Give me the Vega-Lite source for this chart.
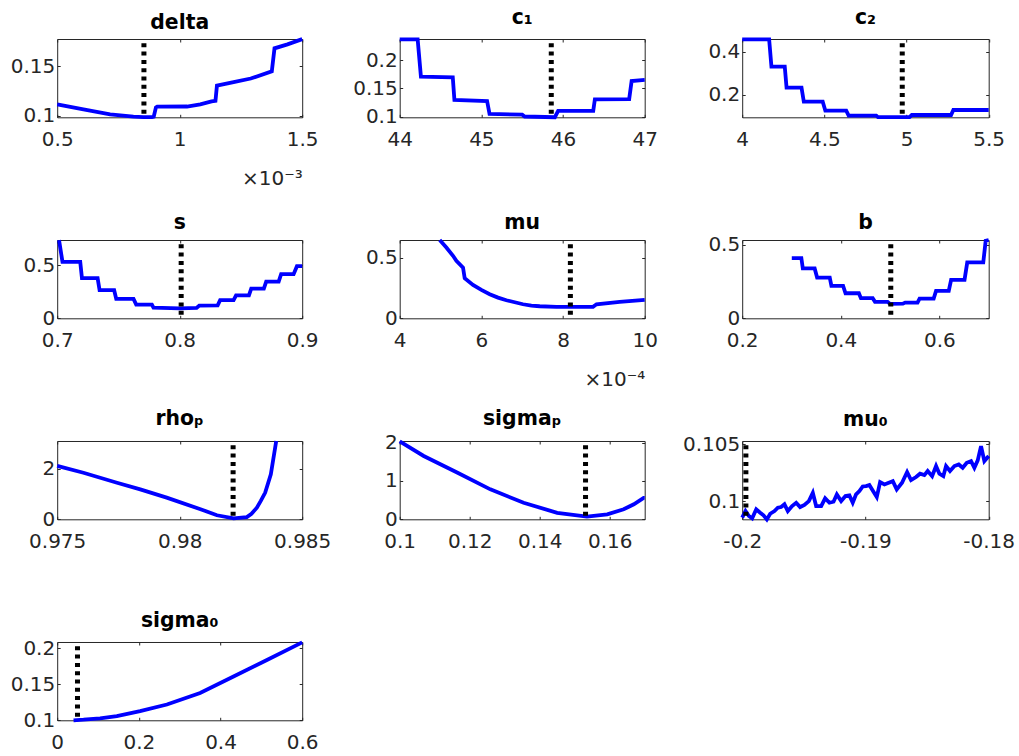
{
  "$schema": "https://vega.github.io/schema/vega-lite/v6.json",
  "padding": {"left": 9.2, "top": 7, "right": 5, "bottom": 5},
  "background": "white",
  "columns": 3,
  "bounds": "flush",
  "align": "each",
  "spacing": {"row": 122, "column": 97.5},
  "config": {
    "font": "DejaVu Sans",
    "numberFormat": "~g",
    "view": {"stroke": "#262626", "strokeWidth": 1},
    "axis": {"grid": false, "domain": false, "labelFont": "DejaVu Sans", "labelFontSize": 20, "labelFontWeight": "normal", "labelColor": "#262626", "tickColor": "#262626", "tickWidth": 1, "tickSize": -3, "labelFlush": false, "labelOverlap": false, "labelBound": false, "titleFont": "DejaVu Sans", "titleFontSize": 20, "titleFontWeight": "normal", "titleColor": "#262626"},
    "axisX": {"labelPadding": 15},
    "axisY": {"labelPadding": 5.5},
    "title": {"font": "DejaVu Sans", "fontSize": 20.4, "fontWeight": "bold", "color": "#000000", "frame": "group", "baseline": "alphabetic", "anchor": "middle"},
    "line": {"color": "#0000ff", "strokeWidth": 3.8},
    "rule": {"color": "#000000", "strokeWidth": 5, "strokeDash": [4, 4.3], "strokeDashOffset": 4}
  },
  "datasets": {
    "opt": [
      {"param": "delta", "x": 0.000854},
      {"param": "c1", "x": 45.856},
      {"param": "c2", "x": 4.974},
      {"param": "s", "x": 0.8012},
      {"param": "mu", "x": 0.000818},
      {"param": "b", "x": 0.5014},
      {"param": "rho", "x": 0.98218},
      {"param": "sigp", "x": 0.1531},
      {"param": "mu0", "x": -0.1997},
      {"param": "sig0", "x": 0.0497}
    ],
    "delta": [
      {"x": 0.0005, "y": 0.1116}, {"x": 0.000607, "y": 0.1066}, {"x": 0.000716, "y": 0.1015}, {"x": 0.000811, "y": 0.0991},
      {"x": 0.000852, "y": 0.0986}, {"x": 0.000887, "y": 0.0986}, {"x": 0.000894, "y": 0.0991}, {"x": 0.000903, "y": 0.1085},
      {"x": 0.000908, "y": 0.1092}, {"x": 0.00103, "y": 0.1094}, {"x": 0.001084, "y": 0.1116}, {"x": 0.00113, "y": 0.1146},
      {"x": 0.001146, "y": 0.1152}, {"x": 0.001152, "y": 0.1305}, {"x": 0.00122, "y": 0.134}, {"x": 0.00129, "y": 0.1377},
      {"x": 0.001376, "y": 0.145}, {"x": 0.001387, "y": 0.1682}, {"x": 0.00144, "y": 0.1722}, {"x": 0.0015, "y": 0.1775}
    ],
    "c1": [
      {"x": 44.0, "y": 0.2366}, {"x": 44.22, "y": 0.2366}, {"x": 44.26, "y": 0.1707}, {"x": 44.65, "y": 0.1696},
      {"x": 44.67, "y": 0.1295}, {"x": 45.07, "y": 0.1277}, {"x": 45.1, "y": 0.1048}, {"x": 45.5, "y": 0.1035},
      {"x": 45.53, "y": 0.1003}, {"x": 45.9, "y": 0.099}, {"x": 45.94, "y": 0.1101}, {"x": 46.37, "y": 0.1103},
      {"x": 46.39, "y": 0.1307}, {"x": 46.81, "y": 0.131}, {"x": 46.84, "y": 0.163}, {"x": 47.0, "y": 0.1648}
    ],
    "c2": [
      {"x": 4.0, "y": 0.457}, {"x": 4.164, "y": 0.457}, {"x": 4.178, "y": 0.3306}, {"x": 4.259, "y": 0.3306},
      {"x": 4.27, "y": 0.2337}, {"x": 4.361, "y": 0.2337}, {"x": 4.375, "y": 0.169}, {"x": 4.49, "y": 0.169},
      {"x": 4.506, "y": 0.1276}, {"x": 4.633, "y": 0.1276}, {"x": 4.648, "y": 0.1045}, {"x": 4.816, "y": 0.1045},
      {"x": 4.826, "y": 0.098}, {"x": 5.018, "y": 0.098}, {"x": 5.032, "y": 0.1077}, {"x": 5.271, "y": 0.1077},
      {"x": 5.285, "y": 0.1308}, {"x": 5.5, "y": 0.1308}
    ],
    "s": [
      {"x": 0.7015, "y": 0.735}, {"x": 0.7043, "y": 0.531}, {"x": 0.7188, "y": 0.531}, {"x": 0.7202, "y": 0.377},
      {"x": 0.733, "y": 0.377}, {"x": 0.7346, "y": 0.264}, {"x": 0.7465, "y": 0.264}, {"x": 0.7482, "y": 0.183},
      {"x": 0.7623, "y": 0.183}, {"x": 0.7645, "y": 0.129}, {"x": 0.7773, "y": 0.129}, {"x": 0.7786, "y": 0.1},
      {"x": 0.8, "y": 0.094}, {"x": 0.8138, "y": 0.097}, {"x": 0.816, "y": 0.12}, {"x": 0.831, "y": 0.122},
      {"x": 0.833, "y": 0.17}, {"x": 0.844, "y": 0.17}, {"x": 0.846, "y": 0.215}, {"x": 0.8565, "y": 0.215},
      {"x": 0.8584, "y": 0.279}, {"x": 0.8687, "y": 0.279}, {"x": 0.8706, "y": 0.345}, {"x": 0.8808, "y": 0.345},
      {"x": 0.8828, "y": 0.415}, {"x": 0.893, "y": 0.415}, {"x": 0.8957, "y": 0.49}, {"x": 0.9, "y": 0.49}
    ],
    "mu": [
      {"x": 0.000498, "y": 0.644}, {"x": 0.0005143, "y": 0.5825}, {"x": 0.0005306, "y": 0.514}, {"x": 0.0005388, "y": 0.4727},
      {"x": 0.0005551, "y": 0.4175}, {"x": 0.0005592, "y": 0.33}, {"x": 0.0005795, "y": 0.275}, {"x": 0.0006, "y": 0.2335},
      {"x": 0.0006204, "y": 0.198}, {"x": 0.0006408, "y": 0.17}, {"x": 0.0006613, "y": 0.1485}, {"x": 0.000702, "y": 0.1155},
      {"x": 0.0007225, "y": 0.104}, {"x": 0.000743, "y": 0.099}, {"x": 0.000784, "y": 0.0935}, {"x": 0.0008245, "y": 0.0932},
      {"x": 0.0008735, "y": 0.095}, {"x": 0.000882, "y": 0.1155}, {"x": 0.0009388, "y": 0.1345}, {"x": 0.001, "y": 0.151}
    ],
    "b": [
      {"x": 0.3006, "y": 0.411}, {"x": 0.32, "y": 0.411}, {"x": 0.323, "y": 0.34}, {"x": 0.347, "y": 0.34},
      {"x": 0.352, "y": 0.278}, {"x": 0.3776, "y": 0.278}, {"x": 0.381, "y": 0.221}, {"x": 0.4047, "y": 0.221},
      {"x": 0.4096, "y": 0.171}, {"x": 0.4367, "y": 0.171}, {"x": 0.4408, "y": 0.137}, {"x": 0.4647, "y": 0.137},
      {"x": 0.4694, "y": 0.112}, {"x": 0.495, "y": 0.112}, {"x": 0.5, "y": 0.098}, {"x": 0.526, "y": 0.1},
      {"x": 0.5306, "y": 0.107}, {"x": 0.5557, "y": 0.107}, {"x": 0.5598, "y": 0.134}, {"x": 0.5884, "y": 0.134},
      {"x": 0.5932, "y": 0.187}, {"x": 0.619, "y": 0.187}, {"x": 0.6238, "y": 0.262}, {"x": 0.651, "y": 0.262},
      {"x": 0.6565, "y": 0.381}, {"x": 0.689, "y": 0.381}, {"x": 0.6939, "y": 0.529}, {"x": 0.7, "y": 0.534}
    ],
    "rho": [
      {"x": 0.975, "y": 2.12}, {"x": 0.97607, "y": 1.85}, {"x": 0.97744, "y": 1.45}, {"x": 0.97839, "y": 1.19},
      {"x": 0.97947, "y": 0.86}, {"x": 0.98085, "y": 0.4}, {"x": 0.98152, "y": 0.16}, {"x": 0.9822, "y": 0.04},
      {"x": 0.98274, "y": 0.09}, {"x": 0.98293, "y": 0.22}, {"x": 0.98315, "y": 0.46}, {"x": 0.98331, "y": 0.73},
      {"x": 0.98349, "y": 1.06}, {"x": 0.98372, "y": 1.79}, {"x": 0.98394, "y": 3.11}
    ],
    "sigp": [
      {"x": 0.1, "y": 2.03}, {"x": 0.10686, "y": 1.65}, {"x": 0.1164, "y": 1.22}, {"x": 0.1259, "y": 0.78},
      {"x": 0.1354, "y": 0.43}, {"x": 0.145, "y": 0.17}, {"x": 0.1535, "y": 0.07}, {"x": 0.1593, "y": 0.13},
      {"x": 0.164, "y": 0.26}, {"x": 0.1669, "y": 0.39}, {"x": 0.1697, "y": 0.56}, {"x": 0.17, "y": 0.56}
    ],
    "mu0": [
      {"x": -0.2, "y": 0.09853}, {"x": -0.19973, "y": 0.09912}, {"x": -0.19946, "y": 0.09868}, {"x": -0.19919, "y": 0.09847},
      {"x": -0.19886, "y": 0.09927}, {"x": -0.19854, "y": 0.09897}, {"x": -0.19827, "y": 0.09874}, {"x": -0.198, "y": 0.09838},
      {"x": -0.19773, "y": 0.09888}, {"x": -0.19738, "y": 0.09912}, {"x": -0.19711, "y": 0.09941}, {"x": -0.19684, "y": 0.09947},
      {"x": -0.19657, "y": 0.09971}, {"x": -0.1963, "y": 0.09912}, {"x": -0.19595, "y": 0.09956}, {"x": -0.19562, "y": 0.09985},
      {"x": -0.1953, "y": 0.09947}, {"x": -0.19495, "y": 0.09965}, {"x": -0.19459, "y": 0.1}, {"x": -0.19427, "y": 0.10073},
      {"x": -0.194, "y": 0.09956}, {"x": -0.19359, "y": 0.09956}, {"x": -0.19327, "y": 0.10024}, {"x": -0.19292, "y": 0.09985},
      {"x": -0.19259, "y": 0.09994}, {"x": -0.19232, "y": 0.10059}, {"x": -0.19197, "y": 0.1}, {"x": -0.19162, "y": 0.10044},
      {"x": -0.1913, "y": 0.1005}, {"x": -0.19103, "y": 0.09985}, {"x": -0.19076, "y": 0.10059}, {"x": -0.19049, "y": 0.10088},
      {"x": -0.19022, "y": 0.10129}, {"x": -0.18995, "y": 0.10132}, {"x": -0.18968, "y": 0.10141}, {"x": -0.18941, "y": 0.10094},
      {"x": -0.18908, "y": 0.10035}, {"x": -0.18881, "y": 0.10168}, {"x": -0.18846, "y": 0.10147}, {"x": -0.18811, "y": 0.10162},
      {"x": -0.18778, "y": 0.10176}, {"x": -0.18746, "y": 0.10103}, {"x": -0.18703, "y": 0.10162}, {"x": -0.18662, "y": 0.10256},
      {"x": -0.1863, "y": 0.10185}, {"x": -0.18589, "y": 0.10212}, {"x": -0.18557, "y": 0.10241}, {"x": -0.18522, "y": 0.10229},
      {"x": -0.18495, "y": 0.10265}, {"x": -0.18459, "y": 0.1022}, {"x": -0.18427, "y": 0.10309}, {"x": -0.184, "y": 0.10241},
      {"x": -0.18368, "y": 0.1022}, {"x": -0.18346, "y": 0.10309}, {"x": -0.18314, "y": 0.10265}, {"x": -0.18278, "y": 0.10309},
      {"x": -0.18243, "y": 0.10323}, {"x": -0.18211, "y": 0.10294}, {"x": -0.18178, "y": 0.10338}, {"x": -0.18143, "y": 0.10353},
      {"x": -0.18116, "y": 0.10294}, {"x": -0.18089, "y": 0.10359}, {"x": -0.18062, "y": 0.10485}, {"x": -0.18035, "y": 0.10353},
      {"x": -0.18, "y": 0.10397}
    ],
    "sig0": [
      {"x": 0.04, "y": 0.1}, {"x": 0.0645, "y": 0.1008}, {"x": 0.105, "y": 0.1028}, {"x": 0.146, "y": 0.1059},
      {"x": 0.203, "y": 0.1128}, {"x": 0.2687, "y": 0.122}, {"x": 0.35, "y": 0.138}, {"x": 0.4318, "y": 0.161},
      {"x": 0.5136, "y": 0.184}, {"x": 0.6, "y": 0.2085}
    ]
  },
  "concat": [
    {
      "width": 245, "height": 78.3,
      "title": {"text": "delta", "offset": -1.4},
      "data": {"name": "delta"},
      "layer": [
        {"mark": "line", "encoding": {
          "x": {"field": "x", "type": "quantitative", "title": "×10⁻³", "scale": {"domain": [0.0005, 0.0015], "nice": false, "zero": false}, "axis": {"values": [0.0005, 0.001, 0.0015], "labelExpr": "format(datum.value*1000,'~g')", "titleAnchor": "end", "titleAlign": "right", "titlePadding": 19}},
          "y": {"field": "y", "type": "quantitative", "title": null, "scale": {"domain": [0.0985, 0.1776], "nice": false, "zero": false}, "axis": {"values": [0.1, 0.15]}}}},
        {"mark": {"type": "line", "opacity": 0}, "encoding": {
          "x": {"field": "x", "type": "quantitative", "title": null, "scale": {"domain": [0.0005, 0.0015], "nice": false, "zero": false}, "axis": {"orient": "top", "labels": false, "labelPadding": 0, "values": [0.0005, 0.001, 0.0015]}},
          "y": {"field": "y", "type": "quantitative", "title": null, "scale": {"domain": [0.0985, 0.1776], "nice": false, "zero": false}, "axis": {"orient": "right", "labels": false, "labelPadding": 0, "values": [0.1, 0.15]}}}},
        {"data": {"name": "opt"}, "transform": [{"filter": "datum.param === 'delta'"}], "mark": "rule", "encoding": {
          "x": {"field": "x", "type": "quantitative", "title": null, "scale": {"domain": [0.0005, 0.0015], "nice": false, "zero": false}, "axis": null}}}
      ],
      "resolve": {"axis": {"x": "independent", "y": "independent"}}
    },
    {
      "width": 245, "height": 78.3,
      "title": {"text": "c₁", "offset": 3.5},
      "data": {"name": "c1"},
      "layer": [
        {"mark": "line", "encoding": {
          "x": {"field": "x", "type": "quantitative", "title": null, "scale": {"domain": [44, 47], "nice": false, "zero": false}, "axis": {"values": [44, 45, 46, 47]}},
          "y": {"field": "y", "type": "quantitative", "title": null, "scale": {"domain": [0.0989, 0.2371], "nice": false, "zero": false}, "axis": {"values": [0.1, 0.15, 0.2]}}}},
        {"mark": {"type": "line", "opacity": 0}, "encoding": {
          "x": {"field": "x", "type": "quantitative", "title": null, "scale": {"domain": [44, 47], "nice": false, "zero": false}, "axis": {"orient": "top", "labels": false, "labelPadding": 0, "values": [44, 45, 46, 47]}},
          "y": {"field": "y", "type": "quantitative", "title": null, "scale": {"domain": [0.0989, 0.2371], "nice": false, "zero": false}, "axis": {"orient": "right", "labels": false, "labelPadding": 0, "values": [0.1, 0.15, 0.2]}}}},
        {"data": {"name": "opt"}, "transform": [{"filter": "datum.param === 'c1'"}], "mark": "rule", "encoding": {
          "x": {"field": "x", "type": "quantitative", "title": null, "scale": {"domain": [44, 47], "nice": false, "zero": false}, "axis": null}}}
      ],
      "resolve": {"axis": {"x": "independent", "y": "independent"}}
    },
    {
      "width": 246.5, "height": 78.3,
      "title": {"text": "c₂", "offset": 3.5},
      "data": {"name": "c2"},
      "layer": [
        {"mark": "line", "encoding": {
          "x": {"field": "x", "type": "quantitative", "title": null, "scale": {"domain": [4, 5.5], "nice": false, "zero": false}, "axis": {"values": [4, 4.5, 5, 5.5]}},
          "y": {"field": "y", "type": "quantitative", "title": null, "scale": {"domain": [0.097, 0.4585], "nice": false, "zero": false}, "axis": {"values": [0.2, 0.4]}}}},
        {"mark": {"type": "line", "opacity": 0}, "encoding": {
          "x": {"field": "x", "type": "quantitative", "title": null, "scale": {"domain": [4, 5.5], "nice": false, "zero": false}, "axis": {"orient": "top", "labels": false, "labelPadding": 0, "values": [4, 4.5, 5, 5.5]}},
          "y": {"field": "y", "type": "quantitative", "title": null, "scale": {"domain": [0.097, 0.4585], "nice": false, "zero": false}, "axis": {"orient": "right", "labels": false, "labelPadding": 0, "values": [0.2, 0.4]}}}},
        {"data": {"name": "opt"}, "transform": [{"filter": "datum.param === 'c2'"}], "mark": "rule", "encoding": {
          "x": {"field": "x", "type": "quantitative", "title": null, "scale": {"domain": [4, 5.5], "nice": false, "zero": false}, "axis": null}}}
      ],
      "resolve": {"axis": {"x": "independent", "y": "independent"}}
    },
    {
      "width": 245, "height": 78.3,
      "title": {"text": "s", "offset": -0.9},
      "data": {"name": "s"},
      "layer": [
        {"mark": "line", "encoding": {
          "x": {"field": "x", "type": "quantitative", "title": null, "scale": {"domain": [0.7, 0.9], "nice": false, "zero": false}, "axis": {"values": [0.7, 0.8, 0.9]}},
          "y": {"field": "y", "type": "quantitative", "title": null, "scale": {"domain": [0, 0.736], "nice": false, "zero": false}, "axis": {"values": [0, 0.5]}}}},
        {"mark": {"type": "line", "opacity": 0}, "encoding": {
          "x": {"field": "x", "type": "quantitative", "title": null, "scale": {"domain": [0.7, 0.9], "nice": false, "zero": false}, "axis": {"orient": "top", "labels": false, "labelPadding": 0, "values": [0.7, 0.8, 0.9]}},
          "y": {"field": "y", "type": "quantitative", "title": null, "scale": {"domain": [0, 0.736], "nice": false, "zero": false}, "axis": {"orient": "right", "labels": false, "labelPadding": 0, "values": [0, 0.5]}}}},
        {"data": {"name": "opt"}, "transform": [{"filter": "datum.param === 's'"}], "mark": "rule", "encoding": {
          "x": {"field": "x", "type": "quantitative", "title": null, "scale": {"domain": [0.7, 0.9], "nice": false, "zero": false}, "axis": null}}}
      ],
      "resolve": {"axis": {"x": "independent", "y": "independent"}}
    },
    {
      "width": 245, "height": 78.3,
      "title": {"text": "mu", "offset": -0.9},
      "data": {"name": "mu"},
      "layer": [
        {"mark": "line", "encoding": {
          "x": {"field": "x", "type": "quantitative", "title": "×10⁻⁴", "scale": {"domain": [0.0004, 0.001], "nice": false, "zero": false}, "axis": {"values": [0.0004, 0.0006, 0.0008, 0.001], "labelExpr": "format(datum.value*10000,'~g')", "titleAnchor": "end", "titleAlign": "right", "titlePadding": 19}},
          "y": {"field": "y", "type": "quantitative", "title": null, "scale": {"domain": [0, 0.644], "nice": false, "zero": false}, "axis": {"values": [0, 0.5]}}}},
        {"mark": {"type": "line", "opacity": 0}, "encoding": {
          "x": {"field": "x", "type": "quantitative", "title": null, "scale": {"domain": [0.0004, 0.001], "nice": false, "zero": false}, "axis": {"orient": "top", "labels": false, "labelPadding": 0, "values": [0.0004, 0.0006, 0.0008, 0.001]}},
          "y": {"field": "y", "type": "quantitative", "title": null, "scale": {"domain": [0, 0.644], "nice": false, "zero": false}, "axis": {"orient": "right", "labels": false, "labelPadding": 0, "values": [0, 0.5]}}}},
        {"data": {"name": "opt"}, "transform": [{"filter": "datum.param === 'mu'"}], "mark": "rule", "encoding": {
          "x": {"field": "x", "type": "quantitative", "title": null, "scale": {"domain": [0.0004, 0.001], "nice": false, "zero": false}, "axis": null}}}
      ],
      "resolve": {"axis": {"x": "independent", "y": "independent"}}
    },
    {
      "width": 246.5, "height": 78.3,
      "title": {"text": "b", "offset": -0.9},
      "data": {"name": "b"},
      "layer": [
        {"mark": "line", "encoding": {
          "x": {"field": "x", "type": "quantitative", "title": null, "scale": {"domain": [0.2, 0.7], "nice": false, "zero": false}, "axis": {"values": [0.2, 0.4, 0.6]}},
          "y": {"field": "y", "type": "quantitative", "title": null, "scale": {"domain": [0, 0.534], "nice": false, "zero": false}, "axis": {"values": [0, 0.5]}}}},
        {"mark": {"type": "line", "opacity": 0}, "encoding": {
          "x": {"field": "x", "type": "quantitative", "title": null, "scale": {"domain": [0.2, 0.7], "nice": false, "zero": false}, "axis": {"orient": "top", "labels": false, "labelPadding": 0, "values": [0.2, 0.4, 0.6]}},
          "y": {"field": "y", "type": "quantitative", "title": null, "scale": {"domain": [0, 0.534], "nice": false, "zero": false}, "axis": {"orient": "right", "labels": false, "labelPadding": 0, "values": [0, 0.5]}}}},
        {"data": {"name": "opt"}, "transform": [{"filter": "datum.param === 'b'"}], "mark": "rule", "encoding": {
          "x": {"field": "x", "type": "quantitative", "title": null, "scale": {"domain": [0.2, 0.7], "nice": false, "zero": false}, "axis": null}}}
      ],
      "resolve": {"axis": {"x": "independent", "y": "independent"}}
    },
    {
      "width": 245, "height": 78.3,
      "title": {"text": "rhoₚ", "offset": 3.5},
      "data": {"name": "rho"},
      "layer": [
        {"mark": "line", "encoding": {
          "x": {"field": "x", "type": "quantitative", "title": null, "scale": {"domain": [0.975, 0.985], "nice": false, "zero": false}, "axis": {"values": [0.975, 0.98, 0.985]}},
          "y": {"field": "y", "type": "quantitative", "title": null, "scale": {"domain": [0, 3.11], "nice": false, "zero": false}, "axis": {"values": [0, 2]}}}},
        {"mark": {"type": "line", "opacity": 0}, "encoding": {
          "x": {"field": "x", "type": "quantitative", "title": null, "scale": {"domain": [0.975, 0.985], "nice": false, "zero": false}, "axis": {"orient": "top", "labels": false, "labelPadding": 0, "values": [0.975, 0.98, 0.985]}},
          "y": {"field": "y", "type": "quantitative", "title": null, "scale": {"domain": [0, 3.11], "nice": false, "zero": false}, "axis": {"orient": "right", "labels": false, "labelPadding": 0, "values": [0, 2]}}}},
        {"data": {"name": "opt"}, "transform": [{"filter": "datum.param === 'rho'"}], "mark": "rule", "encoding": {
          "x": {"field": "x", "type": "quantitative", "title": null, "scale": {"domain": [0.975, 0.985], "nice": false, "zero": false}, "axis": null}}}
      ],
      "resolve": {"axis": {"x": "independent", "y": "independent"}}
    },
    {
      "width": 245, "height": 78.3,
      "title": {"text": "sigmaₚ", "offset": 3.5},
      "data": {"name": "sigp"},
      "layer": [
        {"mark": "line", "encoding": {
          "x": {"field": "x", "type": "quantitative", "title": null, "scale": {"domain": [0.1, 0.17], "nice": false, "zero": false}, "axis": {"values": [0.1, 0.12, 0.14, 0.16]}},
          "y": {"field": "y", "type": "quantitative", "title": null, "scale": {"domain": [0, 2.04], "nice": false, "zero": false}, "axis": {"values": [0, 1, 2]}}}},
        {"mark": {"type": "line", "opacity": 0}, "encoding": {
          "x": {"field": "x", "type": "quantitative", "title": null, "scale": {"domain": [0.1, 0.17], "nice": false, "zero": false}, "axis": {"orient": "top", "labels": false, "labelPadding": 0, "values": [0.1, 0.12, 0.14, 0.16]}},
          "y": {"field": "y", "type": "quantitative", "title": null, "scale": {"domain": [0, 2.04], "nice": false, "zero": false}, "axis": {"orient": "right", "labels": false, "labelPadding": 0, "values": [0, 1, 2]}}}},
        {"data": {"name": "opt"}, "transform": [{"filter": "datum.param === 'sigp'"}], "mark": "rule", "encoding": {
          "x": {"field": "x", "type": "quantitative", "title": null, "scale": {"domain": [0.1, 0.17], "nice": false, "zero": false}, "axis": null}}}
      ],
      "resolve": {"axis": {"x": "independent", "y": "independent"}}
    },
    {
      "width": 246.5, "height": 78.3,
      "title": {"text": "mu₀", "offset": 3.5},
      "data": {"name": "mu0"},
      "layer": [
        {"mark": "line", "encoding": {
          "x": {"field": "x", "type": "quantitative", "title": null, "scale": {"domain": [-0.2, -0.18], "nice": false, "zero": false}, "axis": {"values": [-0.2, -0.19, -0.18], "labelExpr": "replace(format(datum.value,'~g'),'−','-')"}},
          "y": {"field": "y", "type": "quantitative", "title": null, "scale": {"domain": [0.09839, 0.1053], "nice": false, "zero": false}, "axis": {"values": [0.1, 0.105]}}}},
        {"mark": {"type": "line", "opacity": 0}, "encoding": {
          "x": {"field": "x", "type": "quantitative", "title": null, "scale": {"domain": [-0.2, -0.18], "nice": false, "zero": false}, "axis": {"orient": "top", "labels": false, "labelPadding": 0, "values": [-0.2, -0.19, -0.18]}},
          "y": {"field": "y", "type": "quantitative", "title": null, "scale": {"domain": [0.09839, 0.1053], "nice": false, "zero": false}, "axis": {"orient": "right", "labels": false, "labelPadding": 0, "values": [0.1, 0.105]}}}},
        {"data": {"name": "opt"}, "transform": [{"filter": "datum.param === 'mu0'"}], "mark": "rule", "encoding": {
          "x": {"field": "x", "type": "quantitative", "title": null, "scale": {"domain": [-0.2, -0.18], "nice": false, "zero": false}, "axis": null}}}
      ],
      "resolve": {"axis": {"x": "independent", "y": "independent"}}
    },
    {
      "width": 245, "height": 78.3,
      "title": {"text": "sigma₀", "offset": 3.5},
      "data": {"name": "sig0"},
      "layer": [
        {"mark": "line", "encoding": {
          "x": {"field": "x", "type": "quantitative", "title": null, "scale": {"domain": [0, 0.6], "nice": false, "zero": false}, "axis": {"values": [0, 0.2, 0.4, 0.6]}},
          "y": {"field": "y", "type": "quantitative", "title": null, "scale": {"domain": [0.1, 0.209], "nice": false, "zero": false}, "axis": {"values": [0.1, 0.15, 0.2]}}}},
        {"mark": {"type": "line", "opacity": 0}, "encoding": {
          "x": {"field": "x", "type": "quantitative", "title": null, "scale": {"domain": [0, 0.6], "nice": false, "zero": false}, "axis": {"orient": "top", "labels": false, "labelPadding": 0, "values": [0, 0.2, 0.4, 0.6]}},
          "y": {"field": "y", "type": "quantitative", "title": null, "scale": {"domain": [0.1, 0.209], "nice": false, "zero": false}, "axis": {"orient": "right", "labels": false, "labelPadding": 0, "values": [0.1, 0.15, 0.2]}}}},
        {"data": {"name": "opt"}, "transform": [{"filter": "datum.param === 'sig0'"}], "mark": "rule", "encoding": {
          "x": {"field": "x", "type": "quantitative", "title": null, "scale": {"domain": [0, 0.6], "nice": false, "zero": false}, "axis": null}}}
      ],
      "resolve": {"axis": {"x": "independent", "y": "independent"}}
    }
  ]
}
